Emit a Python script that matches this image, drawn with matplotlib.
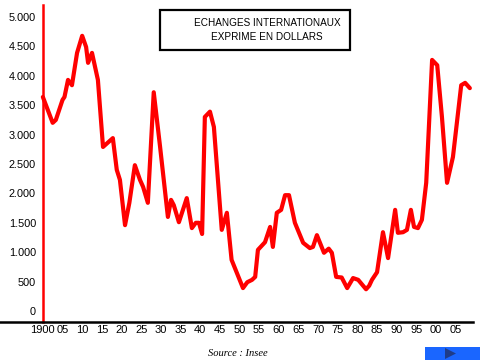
import matplotlib
matplotlib.use("Agg")
import matplotlib.pyplot as plt
from matplotlib.patches import Rectangle, Polygon

# values (year, value in dollars)
years = [1900, 1902.5, 1903.3, 1905, 1905.5, 1906.4, 1907.4, 1908.7, 1910,
         1911, 1911.5, 1912.5, 1914, 1915.3, 1917.8, 1918.8, 1919.6, 1920.9,
         1922, 1923.4, 1924.7, 1925.5, 1926.7, 1928.2, 1929.8, 1931.8, 1932.6,
         1933.3, 1934.6, 1936.6, 1937.9, 1938.9, 1939.7, 1940.5, 1941.2,
         1942.5, 1943.5, 1945.5, 1946.8, 1948, 1950.9, 1952, 1953.2, 1954,
         1954.7, 1956.5, 1957.8, 1958.5, 1959.5, 1960.6, 1961.6, 1962.6,
         1964.1, 1966.2, 1967.9, 1968.7, 1969.7, 1971.5, 1972.7, 1973.5,
         1974.6, 1976, 1977.4, 1978.9, 1980.2, 1982.2, 1983, 1983.7, 1985,
         1986.5, 1987.8, 1989.6, 1990.3, 1991.6, 1992.6, 1993.6, 1994.4,
         1995.4, 1996.4, 1997.5, 1999, 2000.3, 2001.5, 2002.8, 2004.3,
         2006.4, 2007.4, 2008.6]
values = [3640, 3200, 3250, 3590, 3640, 3930, 3840, 4390, 4680,
          4490, 4220, 4390, 3930, 2790, 2940, 2400, 2230, 1460,
          1840, 2480, 2230, 2110, 1840, 3720, 2800, 1600, 1890,
          1800, 1510, 1920, 1410, 1500, 1500, 1310, 3300,
          3390, 3130, 1380, 1670, 870, 390, 490, 530, 580,
          1040, 1170, 1430, 1090, 1670, 1720, 1970, 1970,
          1500, 1160, 1070, 1090, 1290, 990, 1060, 990,
          580, 570, 390, 560, 530, 370, 430, 530, 660,
          1340, 900, 1720, 1330, 1340, 1380, 1720, 1430,
          1410, 1550, 2180, 4270, 4180, 3300, 2180, 2620,
          3840, 3880, 3790]

ytick_vals = [0, 500, 1000, 1500, 2000, 2500, 3000, 3500, 4000, 4500, 5000]
ytick_labels = ["0", "500", "1.000", "1.500", "2.000", "2.500", "3.000",
                "3.500", "4.000", "4.500", "5.000"]
xtick_vals = list(range(1900, 2010, 5))
xtick_labels = ["1900"] + [f"{y % 100:02d}" for y in xtick_vals[1:]]

title_lines = "ECHANGES INTERNATIONAUX\nEXPRIME EN DOLLARS"
source = "Source : Insee"

fig = plt.figure(figsize=(4.8, 3.6), dpi=100)
ax = fig.add_axes([0, 38 / 360, 473 / 480, 317 / 360])

ax.plot(years, values, color="#ff0000", lw=3, solid_joinstyle="round",
        solid_capstyle="round")

ax.set_xlim(1889.1, 2009.4)
ax.set_ylim(-187, 5204)

for s in ["top", "right"]:
    ax.spines[s].set_visible(False)
ax.spines["left"].set_position(("data", 1900))
ax.spines["left"].set_color("#ff0000")
ax.spines["left"].set_linewidth(1.8)
ax.spines["bottom"].set_color("black")
ax.spines["bottom"].set_linewidth(1.8)

ax.set_yticks(ytick_vals)
ax.set_yticklabels(ytick_labels, fontsize=7.8, family="Liberation Sans")
ax.set_xticks(xtick_vals)
ax.set_xticklabels(xtick_labels, fontsize=8, family="Liberation Sans")
ax.tick_params(axis="both", length=0)
ax.tick_params(axis="y", pad=5)
ax.tick_params(axis="x", pad=2)

# title box
fig.patches.append(Rectangle((160 / 480, 1 - 50 / 360), 190 / 480, 40 / 360,
                             transform=fig.transFigure, fill=False,
                             edgecolor="black", lw=1.6))
fig.text(267 / 480, 1 - 30 / 360, title_lines, ha="center", va="center",
         fontsize=7.2, family="Liberation Sans", linespacing=1.6)

fig.text(238 / 480, 1 - 353 / 360, source, ha="center", va="center",
         fontsize=7.6, family="Liberation Serif", style="italic")

# nav button
fig.patches.append(Rectangle((425 / 480, 0), 55 / 480, 13 / 360,
                             transform=fig.transFigure, facecolor="#1a66ff",
                             edgecolor="none"))
fig.patches.append(Polygon([(445 / 480, 12 / 360), (445 / 480, 1 / 360),
                            (456 / 480, 6.5 / 360)],
                           transform=fig.transFigure, facecolor="#1f3c88",
                           edgecolor="none"))

fig.savefig("out.png", dpi=100)
